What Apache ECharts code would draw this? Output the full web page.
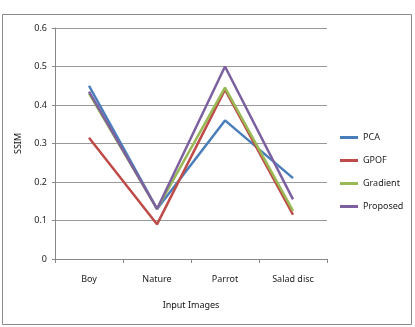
<!DOCTYPE html>
<html><head><meta charset="utf-8">
<script src="https://cdn.jsdelivr.net/npm/echarts@6/dist/echarts.min.js"></script>
<style>html,body{margin:0;padding:0;background:#fff}#c{width:415px;height:327px}</style>
</head><body><div id="c"></div>
<script>
const categories = ['Boy', 'Nature', 'Parrot', 'Salad disc'];
const pca = [0.45, 0.13, 0.36, 0.21];
const gpof = [0.315, 0.09, 0.44, 0.115];
const gradient = [0.43, 0.13, 0.445, 0.125];
const proposed = [0.435, 0.13, 0.5, 0.155];
const yTicks = [0, 0.1, 0.2, 0.3, 0.4, 0.5, 0.6];

const font = 'Noto Sans';
const chart = echarts.init(document.getElementById('c'));
const mk = (name, data, color) => ({
  name, type: 'line', data, symbol: 'none', lineStyle: { color, width: 2.5 }, itemStyle: { color }
});
chart.setOption({
  animation: false,
  textStyle: { fontFamily: font },
  graphic: [{ type: 'rect', shape: { x: 2.5, y: 14.5, width: 409, height: 310 }, style: { fill: 'none', stroke: '#8a8a8a', lineWidth: 1 } }],
  grid: { left: 55, right: 88, top: 28, bottom: 68 },
  legend: {
    orient: 'vertical', left: 335, top: 128, itemGap: 14, itemWidth: 18, itemHeight: 3,
    icon: 'rect', textStyle: { fontSize: 9, color: '#222', fontFamily: font },
    data: ['PCA', 'GPOF', 'Gradient', 'Proposed']
  },
  xAxis: {
    type: 'category', data: categories, boundaryGap: true,
    name: 'Input Images', nameLocation: 'middle', nameGap: 42,
    nameTextStyle: { fontSize: 9, color: '#111', fontFamily: font },
    axisLine: { lineStyle: { color: '#888' } },
    axisTick: { show: true, length: 4, lineStyle: { color: '#888' }, alignWithLabel: false },
    axisLabel: { fontSize: 9, color: '#222', margin: 16 }
  },
  yAxis: {
    type: 'value', min: 0, max: 0.6, interval: 0.1,
    name: 'SSIM', nameLocation: 'middle', nameGap: 31, nameRotate: 90,
    nameTextStyle: { fontSize: 9, color: '#111', fontFamily: font },
    axisLine: { show: true, lineStyle: { color: '#888' } },
    axisTick: { show: true, length: 3, lineStyle: { color: '#888' } },
    splitLine: { lineStyle: { color: '#999', width: 1 } },
    axisLabel: { fontSize: 9, color: '#222', margin: 8, formatter: v => { const t = yTicks.find(x => Math.abs(x - v) < 1e-9); return t === 0 ? '0' : String(t); } }
  },
  series: [
    mk('PCA', pca, '#4A7EBB'),
    mk('GPOF', gpof, '#BE4B48'),
    mk('Gradient', gradient, '#98B954'),
    mk('Proposed', proposed, '#7D60A0')
  ]
});
</script></body></html>
